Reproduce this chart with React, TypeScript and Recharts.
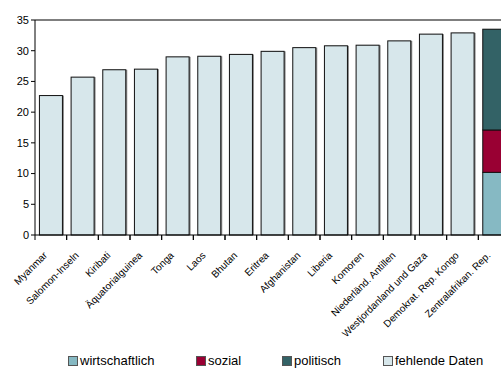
import React from 'react';
import { BarChart, Bar, XAxis, YAxis, ReferenceLine } from 'recharts';

const countries = [
  'Myanmar',
  'Salomon-Inseln',
  'Kiribati',
  'Äquatorialguinea',
  'Tonga',
  'Laos',
  'Bhutan',
  'Eritrea',
  'Afghanistan',
  'Liberia',
  'Komoren',
  'Niederländ. Antillen',
  'Westjordanland und Gaza',
  'Demokrat. Rep. Kongo',
  'Zentralafrikan. Rep.',
];

const wirtschaftlich = [0, 0, 0, 0, 0, 0, 0, 0, 0, 0, 0, 0, 0, 0, 10.2];
const sozial = [0, 0, 0, 0, 0, 0, 0, 0, 0, 0, 0, 0, 0, 0, 6.9];
const politisch = [0, 0, 0, 0, 0, 0, 0, 0, 0, 0, 0, 0, 0, 0, 16.4];
const fehlendeDaten = [22.7, 25.7, 26.9, 27.0, 29.0, 29.1, 29.4, 29.9, 30.5, 30.8, 30.9, 31.6, 32.7, 32.9, 0];

const yTicks = [0, 5, 10, 15, 20, 25, 30, 35];

const series = [
  { key: 'wirtschaftlich', label: 'wirtschaftlich', color: '#86b9c3' },
  { key: 'sozial', label: 'sozial', color: '#990033' },
  { key: 'politisch', label: 'politisch', color: '#336266' },
  { key: 'fehlende', label: 'fehlende Daten', color: '#d7e7eb' },
];

const data = countries.map((name, i) => ({
  name,
  wirtschaftlich: wirtschaftlich[i],
  sozial: sozial[i],
  politisch: politisch[i],
  fehlende: fehlendeDaten[i],
}));

const FONT = '"Liberation Sans", Arial, sans-serif';

// bar with a thin grey drop shadow on the right, like the old office charts
const ShadowBar = (props: any) => {
  const { x, y, width, height, fill } = props;
  if (!height || height <= 0) return null;
  return (
    <g>
      <rect x={x + 1.5} y={y} width={width} height={height} fill="#8a8a8a" />
      <rect x={x} y={y} width={width} height={height} fill={fill} stroke="#111" strokeWidth={1} />
    </g>
  );
};

// category ticks sit between the bars, labels slanted
const CountryTick = (props: any) => {
  const { x, y, payload } = props;
  const half = payload.offset || 0;
  return (
    <g>
      <line x1={x - half} y1={y - 8} x2={x - half} y2={y - 3} stroke="#000" />
      <line x1={x + half} y1={y - 8} x2={x + half} y2={y - 3} stroke="#000" />
      <text
        transform={`translate(${x - 3},${y + 13}) rotate(-45)`}
        textAnchor="end"
        fontSize={10}
        fontFamily={FONT}
        fill="#000"
      >
        {payload.value}
      </text>
    </g>
  );
};

const legendLeft = [68, 196, 282, 383];

export default function App() {
  return (
    <div
      style={{
        position: 'absolute',
        left: 0,
        top: 0,
        width: 501,
        height: 374,
        overflow: 'hidden',
        background: '#fff',
        fontFamily: FONT,
      }}
    >
      <BarChart
        width={520}
        height={374}
        data={data}
        margin={{ top: 20, right: 10, left: 0, bottom: 0 }}
        barCategoryGap="14%"
      >
        <XAxis
          dataKey="name"
          interval={0}
          height={139}
          tickLine={false}
          axisLine={{ stroke: '#000' }}
          tick={<CountryTick />}
        />
        <YAxis
          width={35}
          domain={[0, 35]}
          ticks={yTicks}
          interval={0}
          tickSize={4}
          tickLine={{ stroke: '#000' }}
          axisLine={{ stroke: '#000' }}
          tick={{ fontSize: 11, fontFamily: FONT, fill: '#000' }}
        />
        <ReferenceLine y={35} stroke="#000" strokeWidth={1.2} />
        {series.map((s) => (
          <Bar
            key={s.key}
            dataKey={s.key}
            stackId="a"
            fill={s.color}
            shape={<ShadowBar />}
            isAnimationActive={false}
          />
        ))}
      </BarChart>
      {series.map((s, i) => (
        <div
          key={s.key}
          style={{
            position: 'absolute',
            left: legendLeft[i],
            top: 353,
            display: 'flex',
            alignItems: 'center',
            fontSize: 13,
            color: '#000',
            whiteSpace: 'nowrap',
          }}
        >
          <span
            style={{
              display: 'inline-block',
              width: 8,
              height: 8,
              background: s.color,
              border: '1px solid #555',
              marginRight: 2,
            }}
          />
          {s.label}
        </div>
      ))}
    </div>
  );
}
